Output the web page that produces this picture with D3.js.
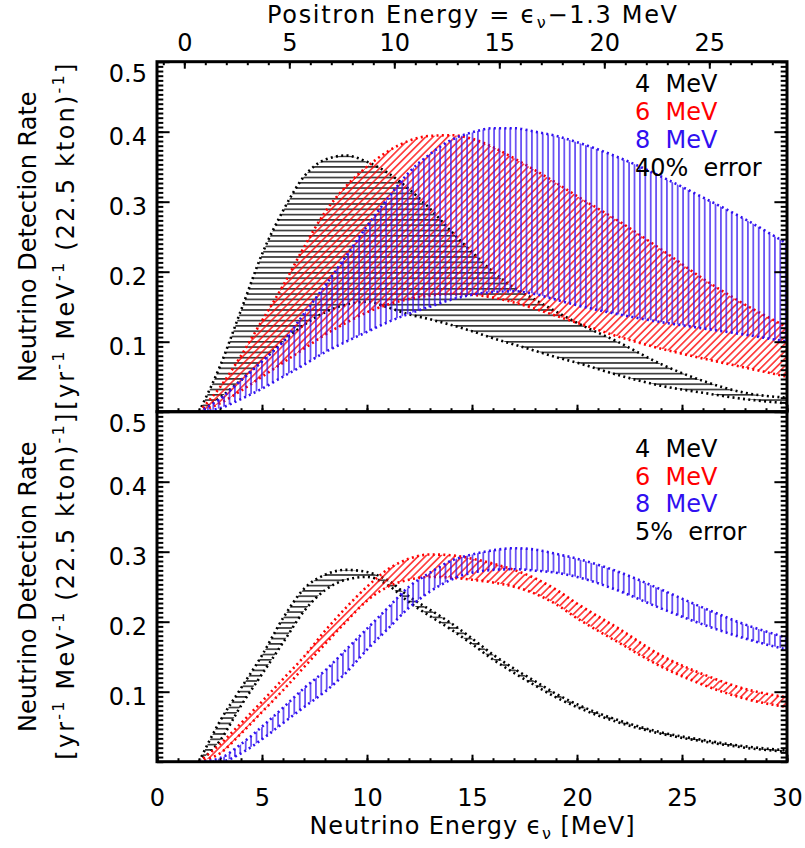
<!DOCTYPE html>
<html>
<head>
<meta charset="utf-8">
<script src="https://cdn.jsdelivr.net/npm/d3@7"></script>
<style>
  body { margin: 0; background: #fff; }
  svg text { font-family: "DejaVu Sans", sans-serif; font-size: 24px; white-space: pre; }
</style>
</head>
<body>
<div id="chart"></div>
<script>
// neutrino energy samples [MeV]
const energy = [2, 3, 4, 5, 6, 7, 8, 9, 10, 11, 12, 13, 14, 15, 16, 17, 18, 19, 20, 22, 24, 26, 28, 30];

// 40% error panel: upper / lower bounds
const hi4_40 = [0, 0.065, 0.145, 0.225, 0.287, 0.336, 0.36, 0.366, 0.357, 0.341, 0.318, 0.29, 0.258, 0.228, 0.2, 0.177, 0.16, 0.143, 0.127, 0.099, 0.068, 0.044, 0.027, 0.02];
const lo4_40 = [0, 0.02, 0.045, 0.072, 0.1, 0.124, 0.142, 0.153, 0.157, 0.149, 0.139, 0.132, 0.124, 0.115, 0.105, 0.096, 0.087, 0.078, 0.07, 0.052, 0.037, 0.027, 0.018, 0.012];
const hi6_40 = [0, 0.035, 0.08, 0.13, 0.18, 0.235, 0.285, 0.322, 0.35, 0.372, 0.387, 0.394, 0.395, 0.39, 0.378, 0.362, 0.345, 0.327, 0.308, 0.272, 0.232, 0.19, 0.153, 0.121];
const lo6_40 = [0, 0.012, 0.03, 0.05, 0.07, 0.09, 0.11, 0.127, 0.142, 0.153, 0.161, 0.166, 0.168, 0.167, 0.163, 0.156, 0.147, 0.137, 0.127, 0.107, 0.09, 0.076, 0.063, 0.05];
const hi8_40 = [0, 0.018, 0.045, 0.072, 0.1, 0.14, 0.18, 0.222, 0.265, 0.305, 0.342, 0.368, 0.388, 0.399, 0.405, 0.405, 0.4, 0.394, 0.385, 0.363, 0.336, 0.306, 0.275, 0.24];
const lo8_40 = [0, 0.005, 0.018, 0.033, 0.05, 0.067, 0.085, 0.1, 0.114, 0.128, 0.14, 0.15, 0.16, 0.167, 0.171, 0.172, 0.168, 0.16, 0.152, 0.139, 0.128, 0.119, 0.11, 0.1];

// 5% error panel
const hi4_5 = [0, 0.058, 0.105, 0.152, 0.205, 0.247, 0.267, 0.274, 0.271, 0.259, 0.236, 0.217, 0.198, 0.176, 0.153, 0.133, 0.115, 0.097, 0.082, 0.059, 0.042, 0.031, 0.022, 0.016];
const lo4_5 = [0, 0.03, 0.08, 0.125, 0.17, 0.215, 0.245, 0.26, 0.264, 0.252, 0.228, 0.208, 0.189, 0.168, 0.146, 0.127, 0.109, 0.092, 0.078, 0.056, 0.04, 0.029, 0.02, 0.014];
const hi6_5 = [0, 0.025, 0.055, 0.086, 0.118, 0.15, 0.187, 0.22, 0.25, 0.275, 0.29, 0.296, 0.295, 0.29, 0.283, 0.274, 0.262, 0.246, 0.226, 0.19, 0.152, 0.125, 0.104, 0.092];
const lo6_5 = [0, 0.012, 0.04, 0.071, 0.102, 0.135, 0.168, 0.2, 0.23, 0.25, 0.26, 0.264, 0.263, 0.26, 0.256, 0.25, 0.24, 0.225, 0.205, 0.17, 0.136, 0.11, 0.09, 0.078];
const hi8_5 = [0, 0.005, 0.025, 0.05, 0.077, 0.105, 0.13, 0.16, 0.19, 0.22, 0.25, 0.27, 0.287, 0.296, 0.302, 0.305, 0.303, 0.297, 0.29, 0.271, 0.246, 0.22, 0.196, 0.177];
const lo8_5 = [0, 0, 0.012, 0.032, 0.055, 0.078, 0.1, 0.127, 0.16, 0.19, 0.22, 0.243, 0.26, 0.27, 0.274, 0.275, 0.273, 0.27, 0.264, 0.244, 0.219, 0.196, 0.176, 0.16];

const legendLabels = ["4  MeV", "6  MeV", "8  MeV"];
const errorLabels = ["40%  error", "5%  error"];
const xTicks = [0, 5, 10, 15, 20, 25, 30];
const positronTicks = [0, 5, 10, 15, 20, 25];
const yTicks = [0.1, 0.2, 0.3, 0.4, 0.5];

const colors = ["#000000", "#ff0000", "#3010f0"];
const hatches = ["hatch-h", "hatch-d", "hatch-v"];

const width = 805, height = 848;
const left = 157, right = 787;

const panels = [
  { top: 61.7, bottom: 411.7, bands: [[hi4_40, lo4_40], [hi6_40, lo6_40], [hi8_40, lo8_40]],
    legendY: [92, 120, 148, 176], error: errorLabels[0], xLabels: false },
  { top: 411.7, bottom: 761.7, bands: [[hi4_5, lo4_5], [hi6_5, lo6_5], [hi8_5, lo8_5]],
    legendY: [457, 485, 512, 540], error: errorLabels[1], xLabels: true }
];

const svg = d3.select("#chart").append("svg")
  .attr("width", width)
  .attr("height", height);

svg.append("rect").attr("width", width).attr("height", height).attr("fill", "#fff");

const x = d3.scaleLinear().domain([0, 30]).range([left, right]);
const xPositron = d3.scaleLinear().domain([-1.3, 28.7]).range([left, right]);

// hatch patterns
const defs = svg.append("defs");
const ph = defs.append("pattern").attr("id", "hatch-h")
  .attr("patternUnits", "userSpaceOnUse").attr("width", 8).attr("height", 5.3);
ph.append("line").attr("x1", 0).attr("x2", 8).attr("y1", 2.6).attr("y2", 2.6)
  .attr("stroke", colors[0]).attr("stroke-width", 1.3);

const pd = defs.append("pattern").attr("id", "hatch-d")
  .attr("patternUnits", "userSpaceOnUse").attr("width", 8).attr("height", 5.2)
  .attr("patternTransform", "rotate(-45)");
pd.append("line").attr("x1", 0).attr("x2", 8).attr("y1", 2.6).attr("y2", 2.6)
  .attr("stroke", colors[1]).attr("stroke-width", 1.3);

const pv = defs.append("pattern").attr("id", "hatch-v")
  .attr("patternUnits", "userSpaceOnUse").attr("width", 5.4).attr("height", 8);
pv.append("line").attr("x1", 2.7).attr("x2", 2.7).attr("y1", 0).attr("y2", 8)
  .attr("stroke", colors[2]).attr("stroke-width", 1.3);

const minorY = d3.range(0, 76).map(i => i * 0.5 / 75);

panels.forEach((p, pi) => {
  const y = d3.scaleLinear().domain([0, 0.5]).range([p.bottom, p.top]);

  svg.append("clipPath").attr("id", "clip" + pi)
    .append("rect").attr("x", left).attr("y", p.top)
    .attr("width", right - left).attr("height", p.bottom - p.top);

  const plot = svg.append("g").attr("clip-path", `url(#clip${pi})`);

  p.bands.forEach(([hi, lo], k) => {
    const data = energy.map((e, i) => ({ e, hi: hi[i], lo: lo[i] }));

    const area = d3.area()
      .x(d => x(d.e))
      .y0(d => y(d.lo))
      .y1(d => y(d.hi))
      .curve(d3.curveMonotoneX);

    plot.append("path")
      .datum(data)
      .attr("fill", `url(#${hatches[k]})`)
      .attr("d", area);

    ["hi", "lo"].forEach(key => {
      const line = d3.line()
        .x(d => x(d.e))
        .y(d => y(d[key]))
        .curve(d3.curveMonotoneX);
      plot.append("path")
        .datum(data)
        .attr("fill", "none")
        .attr("stroke", colors[k])
        .attr("stroke-width", 2.6)
        .attr("stroke-dasharray", "2,3.3")
        .attr("d", line);
    });
  });

  // axes
  const axes = svg.append("g");

  axes.append("g")
    .attr("transform", `translate(0,${p.bottom})`)
    .call(d3.axisBottom(x).tickValues(d3.range(0, 31)).tickSize(-3.5).tickFormat(""));
  axes.append("g")
    .attr("transform", `translate(0,${p.bottom})`)
    .call(d3.axisBottom(x).tickValues(xTicks).tickSize(-7).tickPadding(27)
      .tickFormat(p.xLabels ? d3.format("d") : ""));

  axes.append("g")
    .attr("transform", `translate(${left},0)`)
    .call(d3.axisLeft(y).tickValues(minorY).tickSize(-6.3).tickFormat(""));
  const yl = axes.append("g")
    .attr("transform", `translate(${left},0)`)
    .call(d3.axisLeft(y).tickValues(yTicks).tickSize(-12.6).tickPadding(10)
      .tickFormat(d3.format(".1f")));
  yl.selectAll("text").attr("dy", d => d === 0.5 ? "19.7px" : "12.7px");

  axes.append("g")
    .attr("transform", `translate(${right},0)`)
    .call(d3.axisRight(y).tickValues(minorY).tickSize(-6.3).tickFormat(""));
  axes.append("g")
    .attr("transform", `translate(${right},0)`)
    .call(d3.axisRight(y).tickValues(yTicks).tickSize(-12.6).tickFormat(""));

  if (pi === 0) {
    axes.append("g")
      .attr("transform", `translate(0,${p.top})`)
      .call(d3.axisTop(xPositron).tickValues(d3.range(-1, 29)).tickSize(-3.5).tickFormat(""));
    axes.append("g")
      .attr("transform", `translate(0,${p.top})`)
      .call(d3.axisTop(xPositron).tickValues(positronTicks).tickSize(-7).tickPadding(10.7)
        .tickFormat(d3.format("d")));
  }

  axes.selectAll(".domain").remove();
  axes.selectAll(".tick line").attr("stroke", "#000").attr("stroke-width", 2);
  axes.selectAll(".tick text")
    .attr("font-family", null).attr("font-size", null).attr("fill", "#000");

  // frame
  svg.append("rect")
    .attr("x", left).attr("y", p.top)
    .attr("width", right - left).attr("height", p.bottom - p.top)
    .attr("fill", "none").attr("stroke", "#000").attr("stroke-width", 3);

  // legend
  const legend = svg.append("g");
  legendLabels.forEach((t, k) => {
    legend.append("text").attr("x", 635).attr("y", p.legendY[k])
      .attr("fill", colors[k]).text(t);
  });
  legend.append("text").attr("x", 635).attr("y", p.legendY[3]).attr("fill", "#000").text(p.error);

  // y label
  const cy = (p.top + p.bottom) / 2;
  svg.append("text")
    .attr("transform", `translate(36,${cy}) rotate(-90)`)
    .attr("text-anchor", "middle")
    .text("Neutrino Detection Rate");

  const unit = svg.append("text")
    .attr("transform", `translate(74,${cy}) rotate(-90)`)
    .attr("text-anchor", "middle")
    .attr("textLength", 346)
    .attr("lengthAdjust", "spacing");
  unit.append("tspan").text("[yr");
  unit.append("tspan").attr("dy", -10).attr("font-size", "16px").text("-1");
  unit.append("tspan").attr("dy", 10).text(" MeV");
  unit.append("tspan").attr("dy", -10).attr("font-size", "16px").text("-1");
  unit.append("tspan").attr("dy", 10).text(" (22.5 kton)");
  unit.append("tspan").attr("dy", -10).attr("font-size", "16px").text("-1");
  unit.append("tspan").attr("dy", 10).text("]");
});

// axis titles
const topTitle = svg.append("text")
  .attr("x", (left + right) / 2).attr("y", 23).attr("text-anchor", "middle")
  .attr("textLength", 410).attr("lengthAdjust", "spacing");
topTitle.append("tspan").text("Positron Energy = \u03f5");
topTitle.append("tspan").attr("dy", 5).attr("font-size", "16px").text("\u03bd");
topTitle.append("tspan").attr("dy", -5).text("\u22121.3 MeV");

const bottomTitle = svg.append("text")
  .attr("x", (left + right) / 2).attr("y", 834).attr("text-anchor", "middle")
  .attr("textLength", 325).attr("lengthAdjust", "spacing");
bottomTitle.append("tspan").text("Neutrino Energy \u03f5");
bottomTitle.append("tspan").attr("dy", 5).attr("font-size", "16px").text("\u03bd");
bottomTitle.append("tspan").attr("dy", -5).text(" [MeV]");
</script>
</body>
</html>
